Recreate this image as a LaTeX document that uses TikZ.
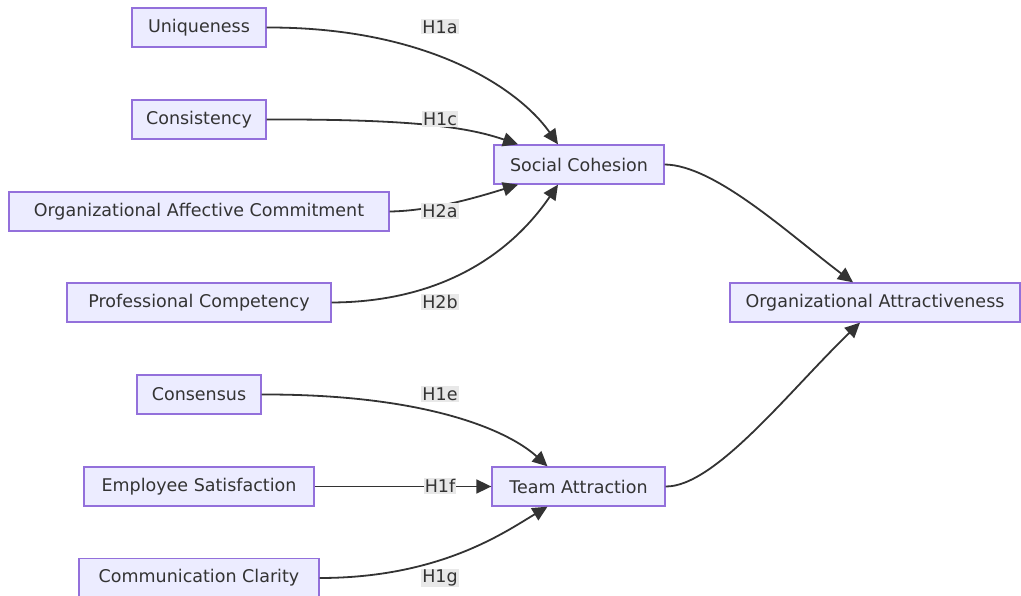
\documentclass[tikz,border=0pt]{standalone}
\usepackage{fontspec}
\setmainfont{DejaVu Sans}
\usepackage{xcolor}
\usetikzlibrary{arrows.meta,positioning}

\definecolor{boxfill}{HTML}{ECECFF}
\definecolor{boxline}{HTML}{9370DB}
\definecolor{ink}{HTML}{333333}
\definecolor{tagfill}{HTML}{E8E8E8}

\begin{document}
\begin{tikzpicture}[x=1pt, y=-1pt, every node/.style={text=ink, font=\fontsize{17.5}{20}\selectfont}]

% Styles for construct boxes, hypothesis tags and paths
\tikzstyle{construct}=[rectangle, draw=boxline, fill=boxfill, line width=1.3pt, minimum height=39pt, inner xsep=6pt]
\tikzstyle{hyp}=[rectangle, fill=tagfill, inner sep=1pt]
\tikzstyle{path}=[draw=ink, line width=1.8pt, -{Triangle[length=15pt, width=14pt]}]

\useasboundingbox (0,0) rectangle (1021,596);

% Antecedents
\node[construct, minimum width=134pt] (uniq) at (199,27.5) {Uniqueness};
\node[construct, minimum width=134pt] (cons) at (199,119.5) {Consistency};
\node[construct, minimum width=380pt] (oac) at (199,211.5) {Organizational Affective Commitment};
\node[construct, minimum width=264pt] (pc) at (199,302.5) {Professional Competency};
\node[construct, minimum width=124pt] (cnss) at (199,394.5) {Consensus};
\node[construct, minimum width=230pt] (es) at (199,486.5) {Employee Satisfaction};
\node[construct, minimum width=240pt] (cc) at (199,578) {Communication Clarity};

% Mediators
\node[construct, minimum width=170pt] (sc) at (579,164.5) {Social Cohesion};
\node[construct, minimum width=173pt] (ta) at (578.5,486.5) {Team Attraction};

% Outcome
\node[construct, minimum width=290pt] (oa) at (875,302.5) {Organizational Attractiveness};

% Paths into Social Cohesion
\draw[path] (uniq.east) .. controls (430,27) and (520,90) .. ([xshift=-21pt]sc.north);
\draw[path] (cons.east) .. controls (420,119) and (470,128) .. ([xshift=-61pt]sc.north);
\draw[path] (oac.east) .. controls (430,211) and (475,198) .. ([xshift=-61pt]sc.south);
\draw[path] (pc.east) .. controls (440,302) and (510,255) .. ([xshift=-21pt]sc.south);

% Paths into Team Attraction
\draw[path] (cnss.east) .. controls (430,394) and (510,432) .. ([xshift=-31pt]ta.north);
\draw[path] (es.east) -- (ta.west);
\draw[path] (cc.east) .. controls (440,578) and (505,532) .. ([xshift=-31pt]ta.south);

% Paths into the outcome
\draw[path] (sc.east) .. controls (715,165) and (790,235) .. ([xshift=-22pt]oa.north);
\draw[path] (ta.east) .. controls (715,487) and (790,390) .. ([xshift=-15pt]oa.south);

% Hypothesis tags
\node[hyp] (h1a) at (440,27) {H1a};
\node[hyp] (h1c) at (440,119) {H1c};
\node[hyp] (h2a) at (440,211) {H2a};
\node[hyp] (h2b) at (440,302) {H2b};
\node[hyp] (h1e) at (440,394) {H1e};
\node[hyp] (h1f) at (440,486) {H1f};
\node[hyp] (h1g) at (440,578) {H1g};

\end{tikzpicture}
\end{document}
